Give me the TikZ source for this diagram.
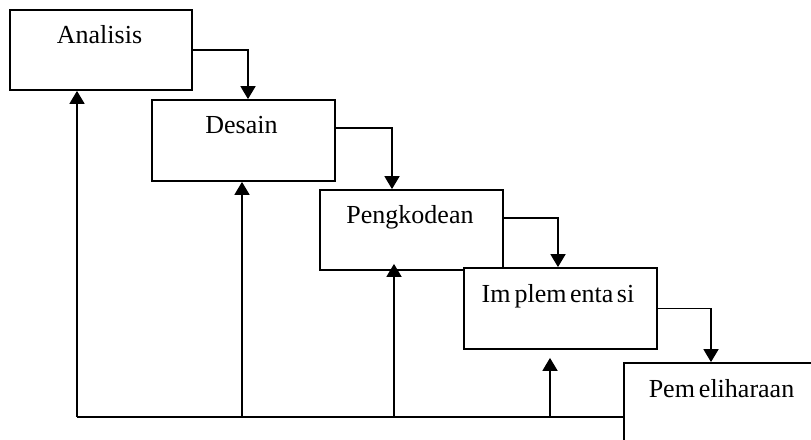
\documentclass[tikz,border=0pt]{standalone}
\usepackage{fontspec}
\setmainfont{Liberation Serif}
\usetikzlibrary{arrows.meta}
\begin{document}
\begin{tikzpicture}[x=1pt,y=1pt,
  box/.style={draw=black, fill=white, line width=1.8pt, rectangle, inner sep=0pt},
  lbl/.style={anchor=base, inner sep=0pt, font=\fontsize{26}{31}\selectfont},
  conn/.style={draw=black, line width=1.8pt},
  arr/.style={conn, -{Triangle[width=15pt,length=13pt]}}]
\useasboundingbox (0,0) rectangle (811,-439);
\clip (0,0) rectangle (811,-439);
% boxes
\node[box, minimum width=182pt, minimum height=80pt] (ana) at (101,-50) {};
\node[box, minimum width=183pt, minimum height=81pt] (des) at (243.5,-140.5) {};
\node[box, minimum width=183pt, minimum height=80pt] (peng) at (411.5,-230) {};
\node[box, minimum width=193pt, minimum height=81pt] (impl) at (560.5,-308.5) {};
\node[box, minimum width=196pt, minimum height=87pt] (pem) at (722,-406.5) {};
% labels
\node[lbl] (tana) at (99.5,-43) {Analisis};
\node[lbl] (tdes) at (241.5,-133) {Desain};
\node[lbl] (tpeng) at (410,-223) {Pengkodean};
\node[lbl] (timpl) at (558,-302) {Im\kern4pt plem\kern3.5pt enta\kern3.5pt si};
\node[lbl] (tpem) at (721.5,-397) {Pem\kern4pt eliharaan};
% forward arrows
\draw[arr] (ana.east) -| ([xshift=4.5pt]des.north);
\draw[arr] ([yshift=12.5pt]des.east) -| ([xshift=-19.5pt]peng.north);
\draw[arr] ([yshift=12pt]peng.east) -| ([xshift=-2.5pt]impl.north);
\draw[arr] (impl.east) -| ([xshift=-11pt]pem.north);
% feedback
\coordinate (bot) at (77,-417);
\draw[conn] (pem.west |- bot) -- (bot);
\draw[arr] (bot) -- ([xshift=-24pt]ana.south);
\draw[arr] ([xshift=-1.5pt]des.south |- bot) -- ([xshift=-1.5pt]des.south);
\draw[arr] ([xshift=-17.5pt]peng.south |- bot) -- ([xshift=-17.5pt,yshift=7pt]peng.south);
\draw[arr] ([xshift=-10.5pt]impl.south |- bot) -- ([xshift=-10.5pt,yshift=-8pt]impl.south);
\end{tikzpicture}
\end{document}
